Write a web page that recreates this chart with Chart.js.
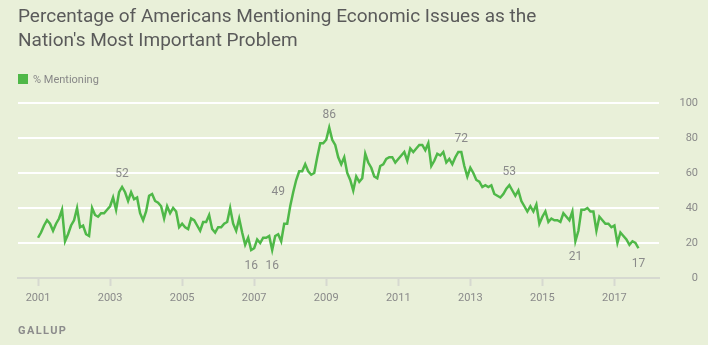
<!DOCTYPE html>
<html>
<head>
<meta charset="utf-8">
<title>Economic issues as most important problem</title>
<script src="https://cdn.jsdelivr.net/npm/chart.js@4"></script>
<style>
    body { margin: 0; background: #e9f0d9; font-family: Roboto, "Open Sans", sans-serif; }
    #wrap { position: relative; width: 708px; height: 345px; }
    #title { position: absolute; left: 18px; top: 4px; font-size: 19px; line-height: 24px; color: #5a5a5a; }
    #legend { position: absolute; left: 18px; top: 74px; font-size: 11px; color: #888; line-height: 12px; }
    #legend span { display: inline-block; width: 10px; height: 10px; background: #4fb848; vertical-align: -1px; margin-right: 5px; }
    #source { position: absolute; left: 18px; top: 324px; font-size: 11px; font-weight: bold; letter-spacing: 1.4px; color: #8c8c8c; }
    canvas { position: absolute; left: 0; top: 0; }
</style>
</head>
<body>
<div id="wrap">
    <canvas id="line" width="708" height="345"></canvas>
    <div id="title">Percentage of Americans Mentioning Economic Issues as the<br>Nation's Most Important Problem</div>
    <div id="legend"><span></span>% Mentioning</div>
    <div id="source">GALLUP</div>
</div>
<script>
    // monthly readings, January 2001 through September 2017
    var startYear = 2001;
    var mentioning = [
        23, 26, 30, 33, 31, 27, 31, 34, 39, 21, 25, 30, // 2001
        33, 40, 29, 30, 25, 24, 40, 36, 35, 37, 37, 39, // 2002
        41, 46, 39, 49, 52, 49, 44, 49, 45, 46, 37, 33, // 2003
        38, 47, 48, 44, 43, 41, 34, 41, 37, 40, 38, 29, // 2004
        31, 29, 28, 34, 33, 30, 27, 32, 32, 36, 28, 26, // 2005
        29, 29, 31, 32, 40, 31, 27, 34, 26, 19, 23, 16, // 2006
        17, 22, 20, 23, 23, 24, 16, 24, 25, 21, 31, 31, // 2007
        41, 49, 56, 61, 61, 65, 61, 59, 60, 69, 77, 77, // 2008
        79, 86, 79, 76, 69, 65, 69, 60, 56, 50, 58, 55, // 2009
        57, 71, 66, 63, 58, 57, 64, 65, 68, 69, 69, 66, // 2010
        68, 70, 72, 67, 74, 72, 74, 76, 76, 73, 77, 64, // 2011
        67, 71, 70, 72, 66, 68, 65, 69, 72, 72, 64, 58, // 2012
        63, 60, 56, 55, 52, 53, 52, 53, 48, 47, 46, 48, // 2013
        51, 53, 50, 47, 50, 44, 41, 38, 41, 38, 42, 31, // 2014
        35, 38, 32, 34, 33, 33, 32, 37, 35, 33, 38, 21, // 2015
        27, 39, 39, 40, 38, 38, 27, 35, 33, 31, 31, 29, // 2016
        30, 20, 26, 24, 22, 19, 21, 20, 17              // 2017
    ];
    var yearTicks = [2001, 2003, 2005, 2007, 2009, 2011, 2013, 2015, 2017];
    var valueTicks = [0, 20, 40, 60, 80, 100];

    // which months get a value printed next to the line
    var callouts = [
        { month: 28, side: 'above' },
        { month: 71, side: 'below' },
        { month: 78, side: 'below' },
        { month: 85, side: 'left' },
        { month: 97, side: 'above' },
        { month: 141, side: 'above' },
        { month: 157, side: 'above' },
        { month: 179, side: 'below' },
        { month: 200, side: 'below' }
    ];

    var points = mentioning.map(function(v, i) {
        return { x: startYear + i / 12, y: v };
    });

    var calloutPlugin = {
        id: 'callouts',
        afterDatasetsDraw: function(chart) {
            var ctx = chart.ctx;
            var meta = chart.getDatasetMeta(0);
            ctx.save();
            ctx.font = '12px Roboto, "Open Sans", sans-serif';
            ctx.fillStyle = '#8a8a8a';
            ctx.textAlign = 'center';
            ctx.textBaseline = 'middle';
            callouts.forEach(function(c) {
                var pt = meta.data[c.month];
                var x = pt.x, y = pt.y;
                if (c.side === 'above') y -= 13;
                if (c.side === 'below') y += 16;
                if (c.side === 'left') x -= 15;
                ctx.fillText(String(mentioning[c.month]), x, y);
            });
            ctx.restore();
        }
    };

    var ctx = document.getElementById('line').getContext('2d');
    var myChart = new Chart(ctx, {
        type: 'line',
        data: {
            datasets: [{
                label: '% Mentioning',
                data: points,
                borderColor: '#4fb848',
                borderWidth: 2.5,
                pointRadius: 0,
                tension: 0,
                fill: false
            }]
        },
        options: {
            responsive: false,
            animation: false,
            layout: { padding: { left: 18, right: 10, top: 103, bottom: 37 } },
            plugins: {
                legend: { display: false },
                tooltip: { enabled: false }
            },
            scales: {
                x: {
                    type: 'linear',
                    min: 2000.444,
                    max: 2018.25,
                    afterBuildTicks: function(scale) {
                        scale.ticks = yearTicks.map(function(y) { return { value: y }; });
                    },
                    afterFit: function(scale) { scale.height = 30; },
                    ticks: {
                        callback: function(v) { return String(v); },
                        color: '#8a8a8a',
                        font: { size: 11, family: 'Roboto, "Open Sans", sans-serif' },
                        padding: 6,
                        maxRotation: 0
                    },
                    grid: {
                        drawOnChartArea: false,
                        drawTicks: true,
                        tickLength: 8,
                        tickColor: '#d6d9d0',
                        tickWidth: 2
                    },
                    border: { color: '#d6d9d0', width: 2 }
                },
                y: {
                    position: 'right',
                    min: 0,
                    max: 100,
                    afterBuildTicks: function(scale) {
                        scale.ticks = valueTicks.map(function(v) { return { value: v }; });
                    },
                    ticks: {
                        color: '#8a8a8a',
                        font: { size: 11, family: 'Roboto, "Open Sans", sans-serif' },
                        padding: 10,
                        crossAlign: 'far'
                    },
                    grid: {
                        drawTicks: false,
                        lineWidth: 2,
                        color: function(c) { return c.tick && c.tick.value === 0 ? 'rgba(0,0,0,0)' : '#ffffff'; }
                    },
                    border: { display: false }
                }
            }
        },
        plugins: [calloutPlugin]
    });
</script>
</body>
</html>
